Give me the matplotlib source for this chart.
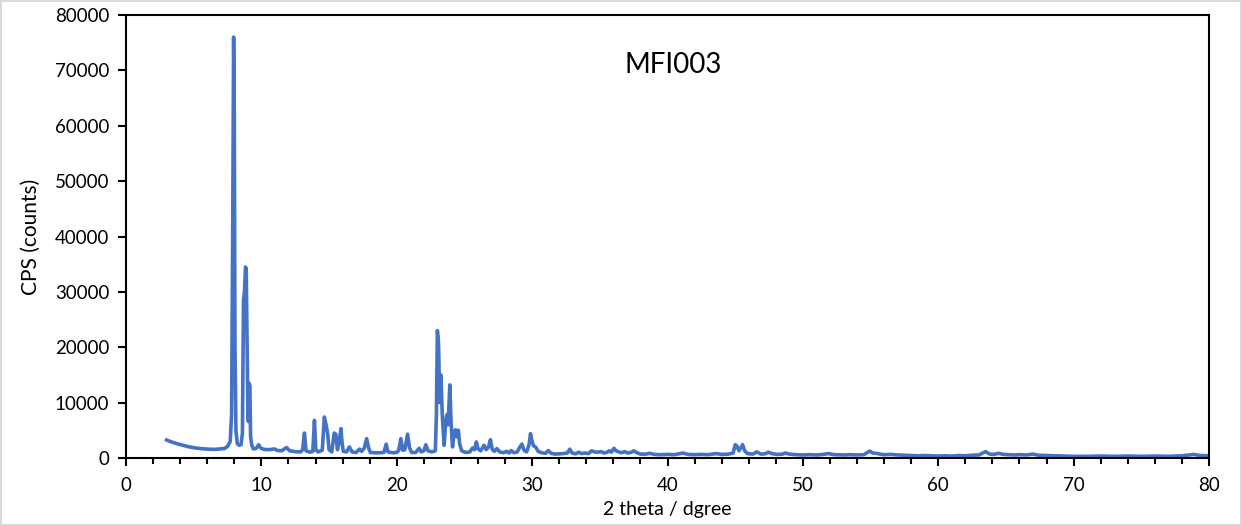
import matplotlib
matplotlib.use("Agg")
import matplotlib.pyplot as plt
from matplotlib.patches import Rectangle
from matplotlib.ticker import MultipleLocator

title = "MFI003"
x_label = "2 theta / dgree"
y_label = "CPS (counts)"

two_theta = [3.0, 3.2, 3.45, 3.8, 4.2, 4.6, 5.1, 5.6, 6.2, 6.6, 7.0, 7.3, 7.5, 7.7, 7.8, 7.88, 7.95, 8.0, 8.05, 8.12,
             8.22, 8.35, 8.5, 8.6, 8.68, 8.75, 8.83, 8.88, 8.95, 9.0, 9.04, 9.1, 9.15, 9.2, 9.28, 9.4, 9.6, 9.8, 9.95, 10.2,
             10.6, 10.95, 11.2, 11.5, 11.85, 12.1, 12.5, 12.9, 13.05, 13.18, 13.3, 13.6, 13.8, 13.92, 14.02, 14.2, 14.5, 14.65, 14.78, 14.9,
             15.0, 15.2, 15.38, 15.5, 15.62, 15.75, 15.88, 15.95, 16.05, 16.3, 16.5, 16.7, 17.0, 17.25, 17.4, 17.6, 17.78, 17.9, 18.05, 18.4,
             18.8, 19.05, 19.22, 19.35, 19.7, 20.0, 20.15, 20.3, 20.45, 20.6, 20.8, 20.95, 21.1, 21.4, 21.65, 21.8, 22.0, 22.15, 22.3, 22.6,
             22.85, 22.93, 23.0, 23.08, 23.18, 23.26, 23.36, 23.5, 23.6, 23.7, 23.8, 23.92, 24.02, 24.12, 24.25, 24.35, 24.45, 24.55, 24.65, 24.8,
             25.1, 25.4, 25.6, 25.75, 25.88, 26.0, 26.2, 26.45, 26.6, 26.78, 26.92, 27.05, 27.2, 27.4, 27.6, 27.9, 28.1, 28.3, 28.45, 28.65,
             28.9, 29.1, 29.25, 29.4, 29.6, 29.78, 29.88, 29.97, 30.1, 30.25, 30.45, 30.7, 31.0, 31.2, 31.4, 31.7, 32.0, 32.3, 32.6, 32.78,
             32.95, 33.2, 33.45, 33.65, 33.9, 34.15, 34.4, 34.6, 34.85, 35.1, 35.3, 35.5, 35.7, 35.85, 36.05, 36.2, 36.4, 36.6, 36.85, 37.05,
             37.3, 37.5, 37.7, 38.0, 38.4, 38.7, 39.0, 39.5, 40.0, 40.5, 41.15, 41.5, 42.0, 42.5, 43.0, 43.6, 44.0, 44.5, 44.85, 45.0,
             45.12, 45.28, 45.45, 45.55, 45.7, 45.9, 46.3, 46.6, 46.9, 47.2, 47.45, 47.7, 48.1, 48.5, 48.7, 49.0, 49.5, 50.0, 50.5, 51.0,
             51.5, 51.9, 52.3, 53.0, 53.5, 54.0, 54.5, 54.95, 55.15, 55.4, 55.7, 56.0, 56.5, 57.0, 57.5, 58.0, 58.5, 59.0, 59.5, 60.0,
             60.5, 61.0, 61.5, 62.0, 62.5, 63.0, 63.5, 63.8, 64.1, 64.45, 64.8, 65.2, 65.6, 66.0, 66.5, 67.0, 67.4, 68.0, 68.5, 69.0,
             70.0, 71.0, 72.0, 73.0, 74.0, 75.0, 76.0, 77.0, 78.0, 78.9, 79.3, 80.0]

cps = [3250, 3050, 2830, 2550, 2290, 2050, 1820, 1680, 1580, 1560, 1650, 1750, 2100, 3000, 8000, 40000, 76000, 62000, 20000, 5000,
       2600, 2300, 2400, 4500, 28500, 30000, 34500, 34000, 20000, 9000, 6600, 13500, 13000, 4000, 2400, 1650, 1700, 2400, 1800, 1550,
       1500, 1650, 1350, 1300, 1900, 1300, 1150, 1100, 1500, 4500, 1300, 1050, 1200, 6800, 1500, 1100, 1400, 7400, 6000, 4300,
       1500, 1100, 4500, 4300, 1500, 3000, 5300, 3000, 1200, 1100, 2000, 1100, 1000, 1600, 1200, 1800, 3500, 2000, 1000, 950,
       950, 1000, 2500, 1100, 950, 1000, 1400, 3500, 1400, 1500, 4300, 1800, 1000, 1000, 1750, 1100, 1300, 2400, 1300, 1100,
       1300, 8000, 23000, 21000, 10000, 15000, 8000, 2300, 6000, 7800, 6000, 13200, 6000, 2000, 4800, 5100, 3800, 5000, 2500, 1300,
       1000, 1100, 1800, 1500, 2900, 1700, 1300, 2300, 1500, 2000, 3300, 1600, 1200, 1700, 1100, 950, 1200, 900, 1350, 950,
       1100, 2000, 2500, 1400, 1100, 2500, 4400, 3300, 2200, 2000, 1200, 950, 850, 1350, 850, 700, 750, 800, 900, 1600,
       900, 750, 1050, 800, 900, 800, 1300, 1100, 1050, 1150, 900, 1000, 1300, 1050, 1750, 1300, 1100, 950, 1150, 900,
       1000, 1300, 1000, 700, 700, 850, 650, 600, 650, 600, 900, 650, 600, 650, 600, 800, 650, 700, 900, 2400,
       2200, 1300, 2000, 2400, 1300, 800, 700, 1100, 700, 750, 1050, 800, 650, 700, 900, 700, 600, 550, 600, 550,
       650, 800, 600, 550, 600, 550, 600, 1250, 900, 850, 700, 600, 650, 550, 500, 450, 400, 450, 400, 350,
       400, 350, 450, 400, 500, 550, 1150, 700, 650, 850, 650, 600, 550, 600, 550, 700, 500, 450, 400, 350,
       300, 300, 350, 300, 350, 300, 350, 300, 400, 650, 450, 400]

plt.rcParams['font.family'] = ['Lato', 'DejaVu Sans']

fig = plt.figure(figsize=(12.42, 5.26), dpi=100)
ax = fig.add_axes([126 / 1242, 1 - 458 / 526, (1209 - 126) / 1242, (458 - 15) / 526])

ax.plot(two_theta, cps, color='#4472C4', lw=2.6, solid_joinstyle='round')

ax.set_xlim(0, 80)
ax.set_ylim(0, 80000)
ax.xaxis.set_major_locator(MultipleLocator(10))
ax.xaxis.set_minor_locator(MultipleLocator(2))
ax.yaxis.set_major_locator(MultipleLocator(10000))

for s in ax.spines.values():
    s.set_linewidth(1.5)
    s.set_color('black')

ax.tick_params(axis='both', which='major', direction='out', length=6, width=1.5, labelsize=13.5, colors='black', pad=6)
ax.tick_params(axis='x', which='minor', direction='out', length=4, width=1.5)
ax.tick_params(axis='x', which='major', pad=8)

ax.set_xlabel(x_label, fontsize=14, labelpad=5)
ax.set_ylabel(y_label, fontsize=15, labelpad=10)

ax.text(40.4, 71000, title, fontsize=20, ha='center', va='center')

fig.patches.append(Rectangle((0.001, 0.002), 0.998, 0.996, transform=fig.transFigure,
                             fill=False, edgecolor='#d9d9d9', lw=1.5))

fig.savefig('out.png', dpi=100)
